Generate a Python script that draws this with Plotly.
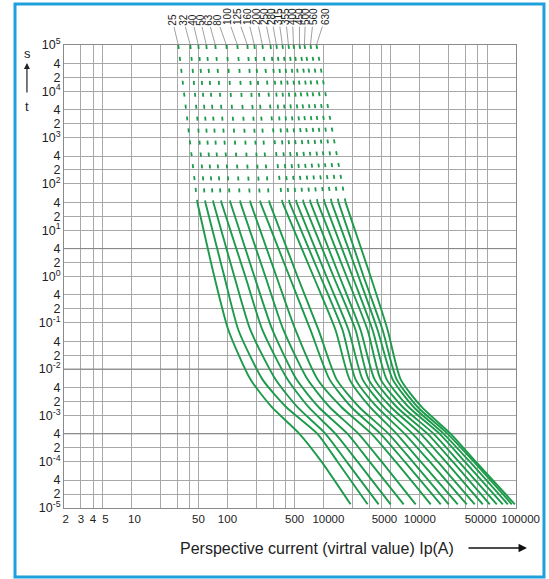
import math
import plotly.graph_objects as go

# ---------------- data ----------------
ratings = ["25", "32", "40", "50", "63", "80", "100", "125", "160", "200",
           "250", "280", "315", "355", "400", "450", "500", "560", "630"]

# dotted (conventional) part: current at t = 1e5 s, it joins the solid part at t = 40 s
dotted_top_time = 1e5
dotted_top_current = [30.8, 41.1, 49.8, 60.3, 74.8, 97.4, 126.8, 161.2, 190.6, 231,
                      280, 323, 373, 431, 486, 561, 632, 730, 843]

# solid part: current (A) of every curve at these times (s)
solid_times = [40, 1, 0.07, 0.006, 0.0015, 0.0004, 0.0001, 1.2e-5]
current_t40 = [48.6, 58.9, 71.3, 86.4, 107.2, 136.3, 173.2, 220, 273, 373,
               441, 522, 617, 730, 864, 1022, 1209, 1430, 1691]
current_t1 = [73.0, 92.8, 118, 153.6, 190.6, 248, 323, 441, 535, 785,
              928, 1072, 1268, 1464, 1732, 2000, 2310, 2604, 3080]
current_t007 = [102.2, 129.9, 173.2, 231, 293.6, 382, 510, 730, 885, 1330,
                1573, 1817, 2149, 2423, 2866, 3231, 3643, 4107, 4630]
current_t0006 = [173.2, 231, 315.5, 420.7, 522, 680, 864, 1152, 1363, 1861,
                 2149, 2542, 2936, 3390, 3915, 4521, 5220, 5746, 6325]
current_t00015 = [290, 410, 535, 700, 890, 1160, 1540, 1950, 2350, 3050,
                  3600, 4250, 5020, 5790, 6680, 7700, 8680, 9550, 10500]
current_t00004 = [561, 864, 1047, 1330, 1774, 2310, 3155, 3915, 4743, 5746,
                  6961, 8434, 10218, 12086, 13957, 16117, 17740, 19526, 20982]
current_t00001 = [951, 1396, 1732, 2255, 3007, 4010, 5610, 6961, 8434, 10218,
                  12680, 15362, 18611, 22014, 25420, 29356, 33096, 36430, 38220]
current_tend = [1906, 2866, 3731, 4976, 6797, 9063, 12988, 16508, 20000, 24818,
                30798, 37314, 45206, 53472, 63246, 73034, 82340, 90632, 97394]

# rating label offsets (pixels) from the top of each dotted line
label_dx = [-6, -7, -6, -6, -7, -9, -10, -10, -7, -6, -6, -5, -4, -3, -1, 0, 1, 3, 9]

# axes ticks
NB = "\u00a0"
x_tick_vals = [2, 3, 4, 5, 10, 20, 30, 40, 50, 100, 200, 300, 400, 500, 1000,
               2000, 3000, 4000, 5000, 10000, 20000, 30000, 40000, 50000, 100000]
x_tick_text = [NB + "2", "3", "4", NB + NB + "5", NB + NB + "10", "", "", "", "50", "100", "", "", "", "500",
               NB * 3 + "10000", "", "", "", "5000" + NB * 4, "10000", "", "", "",
               "50000" + NB * 4, NB * 3 + "100000"]
y_tick_vals = [1e5, 4e4, 2e4, 1e4, 4e3, 2e3, 1e3, 4e2, 2e2, 1e2, 40, 20, 10, 4, 2, 1,
               0.4, 0.2, 0.1, 0.04, 0.02, 0.01, 4e-3, 2e-3, 1e-3, 4e-4, 2e-4, 1e-4,
               4e-5, 2e-5, 1e-5]
y_tick_text = ["10<sup>5</sup>", "4", "2", "10<sup>4</sup>", "4", "2", "10<sup>3</sup>", "4", "2",
               "10<sup>2</sup>", "4", "2", "10<sup>1</sup>", "4", "2", "10<sup>0</sup>",
               "4", "2", "10<sup>-1</sup>", "4", "2", "10<sup>-2</sup>", "4", "2",
               "10<sup>-3</sup>", "4", "2", "10<sup>-4</sup>", "4", "2", "10<sup>-5</sup>"]
dark_grid_times = [4, 0.01, 4e-4]

# ---------------- figure ----------------
GREEN = "#1d9a4b"
GRID = "#a8a8a8"
FONT = "Liberation Sans, Arial, sans-serif"

fig = go.Figure()

for t in dark_grid_times:
    fig.add_trace(go.Scatter(x=[2, 1e5], y=[t, t], mode="lines",
                             line=dict(color="#858585", width=1),
                             hoverinfo="skip", showlegend=False))

solid_cols = [current_t40, current_t1, current_t007, current_t0006,
              current_t00015, current_t00004, current_t00001, current_tend]

for i in range(len(ratings)):
    fig.add_trace(go.Scatter(
        x=[dotted_top_current[i], current_t40[i]], y=[dotted_top_time, solid_times[0]],
        mode="lines", line=dict(color=GREEN, width=1.8, dash="4px,8px"),
        hoverinfo="skip", showlegend=False))
    fig.add_trace(go.Scatter(
        x=[col[i] for col in solid_cols], y=solid_times,
        mode="lines", line=dict(color=GREEN, width=1.9, shape="spline", smoothing=0.6),
        hoverinfo="skip", showlegend=False))

annotations = []
for i, r in enumerate(ratings):
    annotations.append(dict(
        x=math.log10(dotted_top_current[i]), y=5, xref="x", yref="y",
        text=r, textangle=-90, showarrow=True, arrowhead=0, arrowwidth=0.7,
        arrowcolor="#777", ax=label_dx[i], ay=-20 - 2.8 * len(r),
        font=dict(family=FONT, size=10, color="#222")))

# y axis label  s ^ t  and x axis title with arrow
annotations += [
    dict(x=-0.080, y=0.981, xref="paper", yref="paper", text="s", showarrow=False,
         xanchor="center", yanchor="middle",
         font=dict(family=FONT, size=13, color="#222")),
    dict(x=-0.082, y=0.961, xref="paper", yref="paper", text="", showarrow=True,
         ax=0, ay=31, arrowhead=2, arrowsize=1, arrowwidth=1.2, arrowcolor="#222"),
    dict(x=-0.082, y=0.868, xref="paper", yref="paper", text="t", showarrow=False,
         xanchor="center", yanchor="middle",
         font=dict(family=FONT, size=13, color="#222")),
    dict(x=0.5597, y=-0.0864, xref="paper", yref="paper",
         text="Perspective current (virtral value) Ip(A)", showarrow=False,
         xanchor="center", yanchor="middle",
         font=dict(family=FONT, size=16, color="#222")),
    dict(x=1.0243, y=-0.0864, xref="paper", yref="paper", text="", showarrow=True,
         ax=-60, ay=0, arrowhead=2, arrowsize=1.3, arrowwidth=1.3, arrowcolor="#111"),
]

fig.update_layout(
    width=549, height=579,
    margin=dict(l=64, r=33, t=45, b=71, autoexpand=False),
    paper_bgcolor="white", plot_bgcolor="white",
    showlegend=False, hovermode=False,
    annotations=annotations,
    shapes=[dict(type="rect", xref="paper", yref="paper",
                 x0=-0.1084, x1=1.0619, y0=-0.149, y1=1.0886,
                 line=dict(color="#1fa0dc", width=3), layer="below")],
    font=dict(family=FONT, color="#222"),
)
fig.update_xaxes(type="log", range=[math.log10(2) - 0.0005, 5.0005],
                 tickmode="array", tickvals=x_tick_vals, ticktext=x_tick_text,
                 tickangle=0, automargin=False,
                 showgrid=True, gridcolor=GRID, gridwidth=1,
                 showline=True, mirror=True, linecolor="#8a8a8a", linewidth=1,
                 ticks="", tickfont=dict(family=FONT, size=11.5, color="#222"),
                 zeroline=False)
fig.update_yaxes(type="log", range=[-5.0005, 5.0005],
                 tickmode="array", tickvals=y_tick_vals, ticktext=y_tick_text,
                 automargin=False,
                 showgrid=True, gridcolor=GRID, gridwidth=1,
                 showline=True, mirror=True, linecolor="#8a8a8a", linewidth=1,
                 ticks="", tickfont=dict(family=FONT, size=12.5, color="#222"),
                 zeroline=False)

fig.write_html("out.html", config={"displayModeBar": False},
               post_script="document.body.style.margin='0';document.body.style.padding='0';")
